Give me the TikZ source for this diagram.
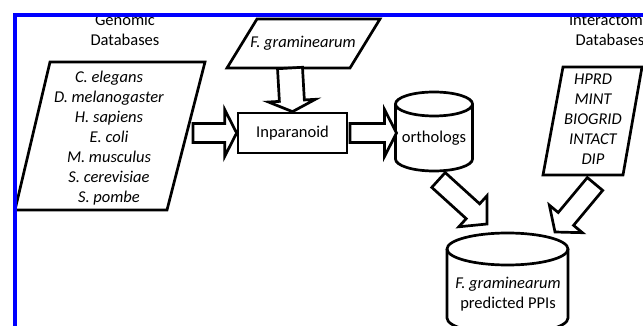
\documentclass[tikz,border=0pt]{standalone}
\usepackage{fontspec}
\setmainfont{Carlito}
\usetikzlibrary{calc}

%% hollow block arrow: from, to, shaft half width, head half width, head length
\newcommand{\fatarrow}[5]{%
  \path ($(#2)!#5!(#1)$) coordinate (fa-base);
  \draw[blockarrow] ($(#1)!#3!90:(#2)$) -- ($(fa-base)!#3!-90:(#1)$)
    -- ($(fa-base)!#4!-90:(#1)$) -- (#2) -- ($(fa-base)!#4!90:(#1)$)
    -- ($(fa-base)!#3!90:(#1)$) -- ($(#1)!#3!-90:(#2)$) -- cycle;
}

\begin{document}
\begin{tikzpicture}[x=1pt,y=-1pt,
  box/.style={draw, line width=2.7pt, line join=miter},
  blockarrow/.style={draw, fill=white, line width=2.7pt, line join=miter},
  lbl/.style={align=center, inner sep=0pt, font=\fontsize{16.5pt}{20pt}\selectfont},
  itlbl/.style={lbl, font=\fontsize{16.5pt}{20pt}\selectfont\itshape}]
\useasboundingbox (0,0) rectangle (643,326);
\clip (0,0) rectangle (643,326);

%% titles
\node[lbl] (genomictitle) at (125,30) {Genomic\\Databases};
\node[lbl] (interactometitle) at (610,30) {Interactome\\Databases};

%% genomic databases
\draw[box] (50,62) -- (205,62) -- (167,210) -- (15,210) -- cycle;
\node[itlbl] (genomic) at (109,138) {C. elegans\\D. melanogaster\\H. sapiens\\E. coli\\M. musculus\\S. cerevisiae\\S. pombe};

%% F. graminearum
\draw[box] (257,19) -- (380,19) -- (350,68) -- (227,68) -- cycle;
\node[itlbl] (fgram) at (303,43) {F. graminearum};

%% interactome databases
\draw[box] (563,67) -- (642,67) -- (623,175) -- (543,175) -- cycle;
\node[itlbl] (interactome) at (593,119) {HPRD\\MINT\\BIOGRID\\INTACT\\DIP};

%% Inparanoid
\node[box, lbl, minimum width=109pt, minimum height=40pt] (inparanoid) at (292.5,133) {Inparanoid};

%% orthologs
\draw[box] (395.5,104) -- (395.5,159) arc[start angle=180, end angle=360, x radius=38.5pt, y radius=12pt] -- (472.5,104);
\draw[box] (434,104) ellipse [x radius=38.5pt, y radius=12pt];
\node[lbl] (orthologs) at (434,138) {orthologs};

%% predicted PPIs
\draw[box] (447,249) -- (447,318) arc[start angle=180, end angle=360, x radius=60.5pt, y radius=16pt] -- (568,249);
\draw[box] (507.5,249) ellipse [x radius=60.5pt, y radius=16pt];
\node[lbl] (ppis) at (508,294) {{\itshape F. graminearum}\\predicted PPIs};

%% arrows
\coordinate (genomic-out) at (193,133);
\coordinate (fgram-out) at (290,68);
\coordinate (inparanoid-out) at (350,133);
\coordinate (orthologs-in) at (396.5,133);
\coordinate (orthologs-out) at (438.5,180);
\coordinate (ppis-in-l) at (487,224);
\coordinate (interactome-out) at (595,184);
\coordinate (ppis-in-r) at (555,232);
\fatarrow{genomic-out}{inparanoid.west}{9.5pt}{23.5pt}{12pt}
\fatarrow{fgram-out}{inparanoid.north}{12.5pt}{23.5pt}{11pt}
\fatarrow{inparanoid-out}{orthologs-in}{9.5pt}{23.5pt}{12pt}
\fatarrow{orthologs-out}{ppis-in-l}{10pt}{21pt}{19pt}
\fatarrow{interactome-out}{ppis-in-r}{10pt}{21.5pt}{17pt}

%% frame
\draw[blue, line width=4pt] (15,340) -- (15,15) -- (660,15);
\end{tikzpicture}
\end{document}
